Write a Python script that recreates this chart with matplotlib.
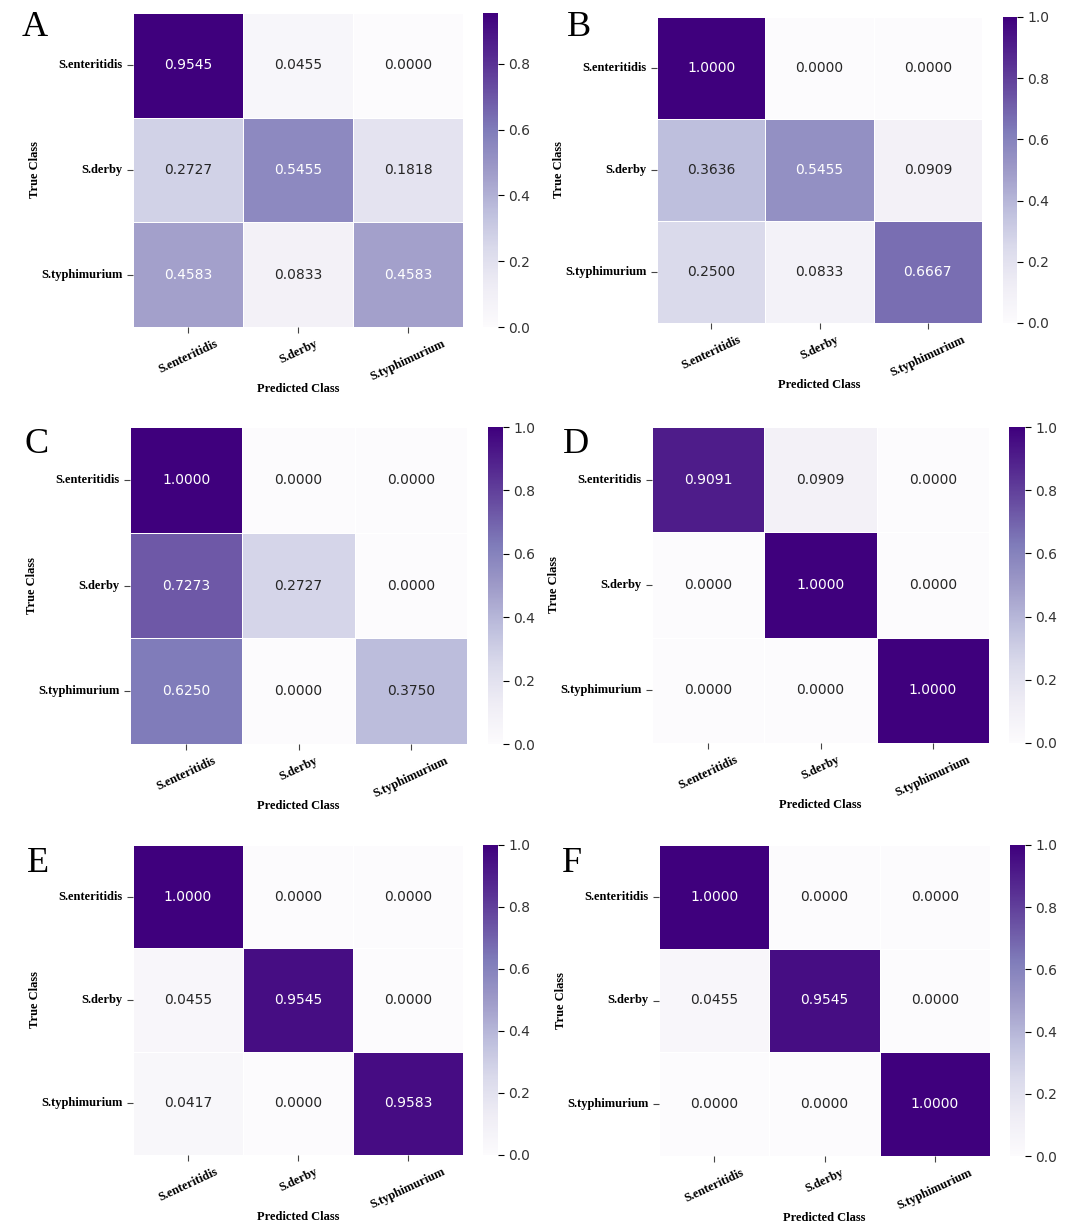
import numpy as np
import matplotlib
matplotlib.use("Agg")
import matplotlib.pyplot as plt
import seaborn as sns

classes = ["S.enteritidis", "S.derby", "S.typhimurium"]
panel_letters = ["A", "B", "C", "D", "E", "F"]

cm_a = [[0.9545, 0.0455, 0.0000], [0.2727, 0.5455, 0.1818], [0.4583, 0.0833, 0.4583]]
cm_b = [[1.0000, 0.0000, 0.0000], [0.3636, 0.5455, 0.0909], [0.2500, 0.0833, 0.6667]]
cm_c = [[1.0000, 0.0000, 0.0000], [0.7273, 0.2727, 0.0000], [0.6250, 0.0000, 0.3750]]
cm_d = [[0.9091, 0.0909, 0.0000], [0.0000, 1.0000, 0.0000], [0.0000, 0.0000, 1.0000]]
cm_e = [[1.0000, 0.0000, 0.0000], [0.0455, 0.9545, 0.0000], [0.0417, 0.0000, 0.9583]]
cm_f = [[1.0000, 0.0000, 0.0000], [0.0455, 0.9545, 0.0000], [0.0000, 0.0000, 1.0000]]
matrices = [cm_a, cm_b, cm_c, cm_d, cm_e, cm_f]

W, H = 1069, 1231
# pixel boxes: heatmap (x0, y0, x1, y1), colorbar (x0, x1), letter (x, y)
heat_px = [(133, 13, 463, 327), (657, 17, 982, 323),
           (130, 427, 467, 744), (652, 427, 989, 743),
           (133, 845, 463, 1155), (659, 845, 990, 1156)]
cbar_px = [(483, 498), (1003, 1017), (488, 503), (1009, 1025), (483, 498), (1010, 1025)]
letter_px = [(22, 36), (567, 36), (25, 453), (563, 453), (27, 872), (562, 872)]

serif = "Liberation Serif"
fig = plt.figure(figsize=(W / 100, H / 100), dpi=100)


def box(x0, y0, x1, y1):
    return [x0 / W, 1 - y1 / H, (x1 - x0) / W, (y1 - y0) / H]


for i, cm in enumerate(matrices):
    hx0, hy0, hx1, hy1 = heat_px[i]
    cx0, cx1 = cbar_px[i]
    ax = fig.add_axes(box(hx0, hy0, hx1, hy1))
    cax = fig.add_axes(box(cx0, hy0, cx1, hy1))
    data = np.array(cm)
    sns.heatmap(data, ax=ax, cbar_ax=cax, cmap="Purples", annot=True, fmt=".4f",
                linewidths=0.6, linecolor="white", vmin=0,
                annot_kws={"fontsize": 10})
    ax.set_xticks(np.arange(3) + 0.5)
    ax.set_yticks(np.arange(3) + 0.5)
    ax.set_xticklabels(classes, rotation=25, fontfamily=serif, fontweight="bold", fontsize=9)
    ax.set_yticklabels(classes, rotation=0, fontfamily=serif, fontweight="bold", fontsize=9)
    ax.tick_params(axis="both", length=4, width=0.8, color="#444444")
    ax.set_xlabel("Predicted Class", fontfamily=serif, fontweight="bold", fontsize=9, labelpad=0)
    ax.set_ylabel("True Class", fontfamily=serif, fontweight="bold", fontsize=9, labelpad=0)
    cax.tick_params(labelsize=10, length=4, width=0.8, labelcolor="#333333")
    cax.set_yticks(np.arange(0, data.max() + 1e-6, 0.2))
    for sp in cax.spines.values():
        sp.set_visible(False)
    lx, ly = letter_px[i]
    fig.text(lx / W, 1 - ly / H, panel_letters[i], fontfamily=serif, fontsize=26)

fig.savefig("out.png", dpi=100, facecolor="white")
